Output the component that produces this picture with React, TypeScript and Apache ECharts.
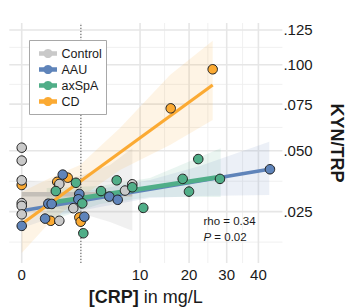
import React, { useEffect, useRef } from "react";
import * as echarts from "echarts";

// ---------- data (CRP in mg/L, KYN/TRP ratio) ----------
const controlCRP = [0, 0, 0, 0, 0, 0, 1.01, 1.9, 1.01, 7.62, 8.73];
const controlKT = [0.0515, 0.0454, 0.0368, 0.028, 0.027, 0.0241, 0.0353, 0.0262, 0.022, 0.0327, 0.0352];

const aauCRP = [0, 1.2, 0.505, 0.64, 0.39, 2.37, 2.29, 2.8, 5.48, 6.58, 44.0];
const aauKT = [0.0204, 0.0392, 0.0278, 0.0277, 0.0227, 0.0314, 0.0294, 0.0233, 0.0304, 0.0292, 0.0415];

const axspaCRP = [0.83, 2.1, 2.62, 2.71, 4.49, 6.44, 8.73, 10.55, 18.5, 22.26, 19.98, 28.07];
const axspaKT = [0.0325, 0.0358, 0.0279, 0.0182, 0.0325, 0.0368, 0.034, 0.0263, 0.0374, 0.0461, 0.0323, 0.0374];

const cdCRP = [0, 0.9, 1.51, 0.6, 2.37, 2.48, 15.85, 26.04];
const cdKT = [0.0349, 0.0362, 0.0379, 0.022, 0.0231, 0.0217, 0.0725, 0.0969];

// fitted lines (end points)
const controlFitX = [0, 8.73];
const controlFitY = [0.03126, 0.03126];
const aauFitX = [0, 43.76];
const aauFitY = [0.02533, 0.04149];
const axspaFitX = [0.446, 28.27];
const axspaFitY = [0.02793, 0.03831];
const cdFitX = [0, 26.04];
const cdFitY = [0.02098, 0.08666];

// confidence bands
const controlBandX = [0, 0.3875, 2.426, 5.565, 8.731];
const controlBandLo = [0.02592, 0.02697, 0.02455, 0.02161, 0.01895];
const controlBandHi = [0.03694, 0.03612, 0.03861, 0.0434, 0.05121];

const aauBandX = [0, 1.047, 4.376, 11.75, 22.69, 43.76];
const aauBandLo = [0.01976, 0.02388, 0.02662, 0.02987, 0.03062, 0.03099];
const aauBandHi = [0.03099, 0.03138, 0.03331, 0.03694, 0.04295, 0.05447];

const axspaBandX = [0.446, 4.376, 11.75, 28.27];
const axspaBandLo = [0.02161, 0.02768, 0.03024, 0.03024];
const axspaBandHi = [0.0337, 0.0345, 0.03777, 0.05121];

const cdBandX = [0, 0.572, 2.426, 6.897, 15.7, 26.04];
const cdBandLo = [0.01292, 0.02161, 0.02987, 0.04119, 0.05283, 0.06591];
const cdBandHi = [0.03214, 0.03777, 0.0434, 0.06157, 0.09311, 0.11699];

const dottedCRP = 2.5;

// axis ticks
const xTicks = [0, 10, 20, 30, 40];
const xTickLabels = ["0", "10", "20", "30", "40"];
const yTicks = [0.025, 0.05, 0.075, 0.1, 0.125];
const yTickLabels = [".025", ".050", ".075", ".100", ".125"];

const groups = ["Control", "AAU", "axSpA", "CD"];
const colors: Record<string, string> = {
  Control: "#c9c9c9",
  AAU: "#5f84ba",
  axSpA: "#50ae88",
  CD: "#fbaa33",
};

const FONT = "'Liberation Sans', Arial, Helvetica, sans-serif";
const tf = (v: number) => Math.sqrt(Math.max(v, 0));

const X_MIN = -0.332;
const X_MAX = 6.966;
const Y_MIN = 0.1029;
const Y_MAX = 0.36108;

function pts(xs: number[], ys: number[]) {
  return xs.map((x, i) => [tf(x), tf(ys[i])]);
}

function bandSeries(xs: number[], lo: number[], hi: number[], color: string, opacity: number) {
  const data = xs.map((x, i) => [tf(x), tf(lo[i]), tf(hi[i])]);
  return {
    type: "custom",
    silent: true,
    z: 1,
    data,
    encode: { x: 0, y: [1, 2] },
    renderItem: (params: any, api: any) => {
      if (params.dataIndex !== 0) return { type: "group", children: [] };
      const poly: number[][] = [];
      for (let i = 0; i < data.length; i++) poly.push(api.coord([data[i][0], data[i][2]]));
      for (let i = data.length - 1; i >= 0; i--) poly.push(api.coord([data[i][0], data[i][1]]));
      return {
        type: "polygon",
        shape: { points: poly },
        style: { fill: color, opacity },
      };
    },
  };
}

// reference lines: [orientation (0 vertical, 1 horizontal), value, kind (0 minor, 1 major, 2 dotted)]
function refLineSeries(rows: number[][], z: number) {
  return {
    type: "custom",
    silent: true,
    z,
    data: rows,
    encode: { x: -1, y: -1 },
    renderItem: (params: any, api: any) => {
      const r = rows[params.dataIndex];
      const v = r[1];
      const a = r[0] === 0 ? api.coord([v, Y_MIN]) : api.coord([X_MIN, v]);
      const b = r[0] === 0 ? api.coord([v, Y_MAX]) : api.coord([X_MAX, v]);
      let style: any;
      if (r[2] === 1) style = { stroke: "#e6e6e6", lineWidth: 1.6 };
      else if (r[2] === 0) style = { stroke: "#eeeeee", lineWidth: 0.9 };
      else style = { stroke: "#555555", lineWidth: 1, lineDash: [1.2, 1.8] };
      return {
        type: "line",
        shape: { x1: a[0], y1: a[1], x2: b[0], y2: b[1] },
        style,
      };
    },
  };
}

function lineSeries(xs: number[], ys: number[], color: string, width: number) {
  return {
    type: "line",
    silent: true,
    z: 2,
    data: pts(xs, ys),
    showSymbol: false,
    symbol: "none",
    lineStyle: { color, width, cap: "butt" },
  };
}

function scatterSeries(name: string, xs: number[], ys: number[]) {
  return {
    type: "scatter",
    name,
    z: 3,
    data: pts(xs, ys),
    symbolSize: 9.5,
    itemStyle: { color: colors[name], borderColor: "#1e1e1e", borderWidth: 1, opacity: 1 },
  };
}

function nearestLabel(v: number, ticks: number[], labels: string[]) {
  let best = 0;
  for (let i = 1; i < ticks.length; i++) {
    if (Math.abs(tf(ticks[i]) - v) < Math.abs(tf(ticks[best]) - v)) best = i;
  }
  return labels[best];
}

export default function App() {
  const ref = useRef<HTMLDivElement>(null);

  useEffect(() => {
    const chart = echarts.init(ref.current!, null, { renderer: "svg" });

    const xs = xTicks.map(tf);
    const ys = yTicks.map(tf);
    const xMinor: number[] = [];
    for (let i = 0; i < xs.length - 1; i++) xMinor.push((xs[i] + xs[i + 1]) / 2);
    xMinor.unshift(xs[0] - (xs[1] - xs[0]) / 2);
    xMinor.push(xs[xs.length - 1] + (xs[1] - xs[0]) / 2);
    const yMinor: number[] = [];
    for (let i = 0; i < ys.length - 1; i++) yMinor.push((ys[i] + ys[i + 1]) / 2);
    yMinor.unshift(ys[0] - (ys[1] - ys[0]) / 2);
    yMinor.push(ys[ys.length - 1] + (ys[1] - ys[0]) / 2);

    const gridRows: number[][] = [];
    xMinor.filter((v) => v > X_MIN && v < X_MAX).forEach((v) => gridRows.push([0, v, 0]));
    yMinor.filter((v) => v > Y_MIN && v < Y_MAX).forEach((v) => gridRows.push([1, v, 0]));
    xs.forEach((v) => gridRows.push([0, v, 1]));
    ys.forEach((v) => gridRows.push([1, v, 1]));
    const dottedRows = [[0, tf(dottedCRP), 2]];

    const legendY = [53.5, 69.5, 85.5, 101.5];
    const LZ = 200;
    const legendChildren: any[] = [
      {
        type: "rect",
        z: LZ,
        shape: { x: 29.5, y: 40.5, width: 77, height: 74 },
        style: { fill: "#ffffff", stroke: "#a8a8a8", lineWidth: 1 },
      },
    ];
    groups.forEach((g, i) => {
      legendChildren.push({
        type: "line",
        z: LZ + 1,
        shape: { x1: 39, y1: legendY[i], x2: 57, y2: legendY[i] },
        style: { stroke: colors[g], lineWidth: 4.5 },
      });
      legendChildren.push({
        type: "circle",
        z: LZ + 2,
        shape: { cx: 48, cy: legendY[i], r: 4.6 },
        style: { fill: colors[g] },
      });
      legendChildren.push({
        type: "text",
        z: LZ + 2,
        x: 61.5,
        y: legendY[i],
        style: {
          text: g,
          fontSize: 12.5,
          fontFamily: FONT,
          fill: "#1a1a1a",
          textVerticalAlign: "middle",
          verticalAlign: "middle",
        },
      });
    });

    const option: any = {
      animation: false,
      grid: {
        left: 9.3,
        right: 63.6,
        top: 23,
        bottom: 45,
        containLabel: false,
        outerBoundsMode: "none",
      },
      xAxis: {
        type: "value",
        min: X_MIN,
        max: X_MAX,
        axisLine: { show: false },
        axisTick: { show: false },
        splitLine: { show: false },
        axisLabel: {
          customValues: xs,
          formatter: (v: number) => nearestLabel(v, xTicks, xTickLabels),
          fontSize: 15,
          fontFamily: FONT,
          color: "#1a1a1a",
          margin: 4,
          hideOverlap: false,
          showMinLabel: true,
          showMaxLabel: true,
        },
        name: "{b|[CRP]} in mg/L",
        nameLocation: "middle",
        nameGap: 25,
        nameTextStyle: {
          fontSize: 18,
          fontFamily: FONT,
          color: "#1a1a1a",
          rich: { b: { fontSize: 18, fontFamily: FONT, fontWeight: "bold", color: "#1a1a1a" } },
        },
      },
      yAxis: {
        type: "value",
        position: "right",
        min: Y_MIN,
        max: Y_MAX,
        axisLine: { show: false },
        axisTick: { show: false },
        splitLine: { show: false },
        axisLabel: {
          customValues: ys,
          formatter: (v: number) => nearestLabel(v, yTicks, yTickLabels),
          fontSize: 15,
          fontFamily: FONT,
          color: "#1a1a1a",
          margin: 1,
          hideOverlap: false,
          showMinLabel: true,
          showMaxLabel: true,
        },
      },
      graphic: [
        { type: "group", z: LZ, children: legendChildren },
        {
          type: "text",
          x: 336.5,
          y: 143,
          rotation: -Math.PI / 2,
          style: {
            text: "KYN/TRP",
            fontSize: 18,
            fontWeight: "bold",
            fontFamily: FONT,
            fill: "#1a1a1a",
            align: "center",
            verticalAlign: "middle",
            textAlign: "center",
            textVerticalAlign: "middle",
          },
        },
        {
          type: "text",
          x: 203.5,
          y: 221,
          z: 100,
          style: {
            text: "rho = 0.34",
            fontSize: 11.5,
            fontFamily: FONT,
            fill: "#1a1a1a",
            verticalAlign: "middle",
            textVerticalAlign: "middle",
          },
        },
        {
          type: "text",
          x: 203.5,
          y: 236.7,
          z: 100,
          style: {
            text: "{i|P} = 0.02",
            fontSize: 11.5,
            fontFamily: FONT,
            fill: "#1a1a1a",
            verticalAlign: "middle",
            textVerticalAlign: "middle",
            rich: { i: { fontStyle: "italic", fontSize: 11.5, fontFamily: FONT, fill: "#1a1a1a" } },
          },
        },
      ],
      series: [
        refLineSeries(gridRows, 0),
        bandSeries(controlBandX, controlBandLo, controlBandHi, "#a0a0a0", 0.16),
        bandSeries(axspaBandX, axspaBandLo, axspaBandHi, colors.axSpA, 0.12),
        bandSeries(aauBandX, aauBandLo, aauBandHi, colors.AAU, 0.12),
        bandSeries(cdBandX, cdBandLo, cdBandHi, colors.CD, 0.13),
        refLineSeries(dottedRows, 1.5),
        lineSeries(controlFitX, controlFitY, "#c4bfb8", 4.5),
        lineSeries(aauFitX, aauFitY, colors.AAU, 3.5),
        lineSeries(axspaFitX, axspaFitY, colors.axSpA, 4.5),
        lineSeries(cdFitX, cdFitY, colors.CD, 3.2),
        scatterSeries("CD", cdCRP, cdKT),
        scatterSeries("Control", controlCRP, controlKT),
        scatterSeries("AAU", aauCRP, aauKT),
        scatterSeries("axSpA", axspaCRP, axspaKT),
      ],
    };

    chart.setOption(option);
    return () => chart.dispose();
  }, []);

  return (
    <div
      ref={ref}
      style={{ position: "fixed", left: 0, top: 0, width: 346, height: 308, background: "#ffffff" }}
    />
  );
}
